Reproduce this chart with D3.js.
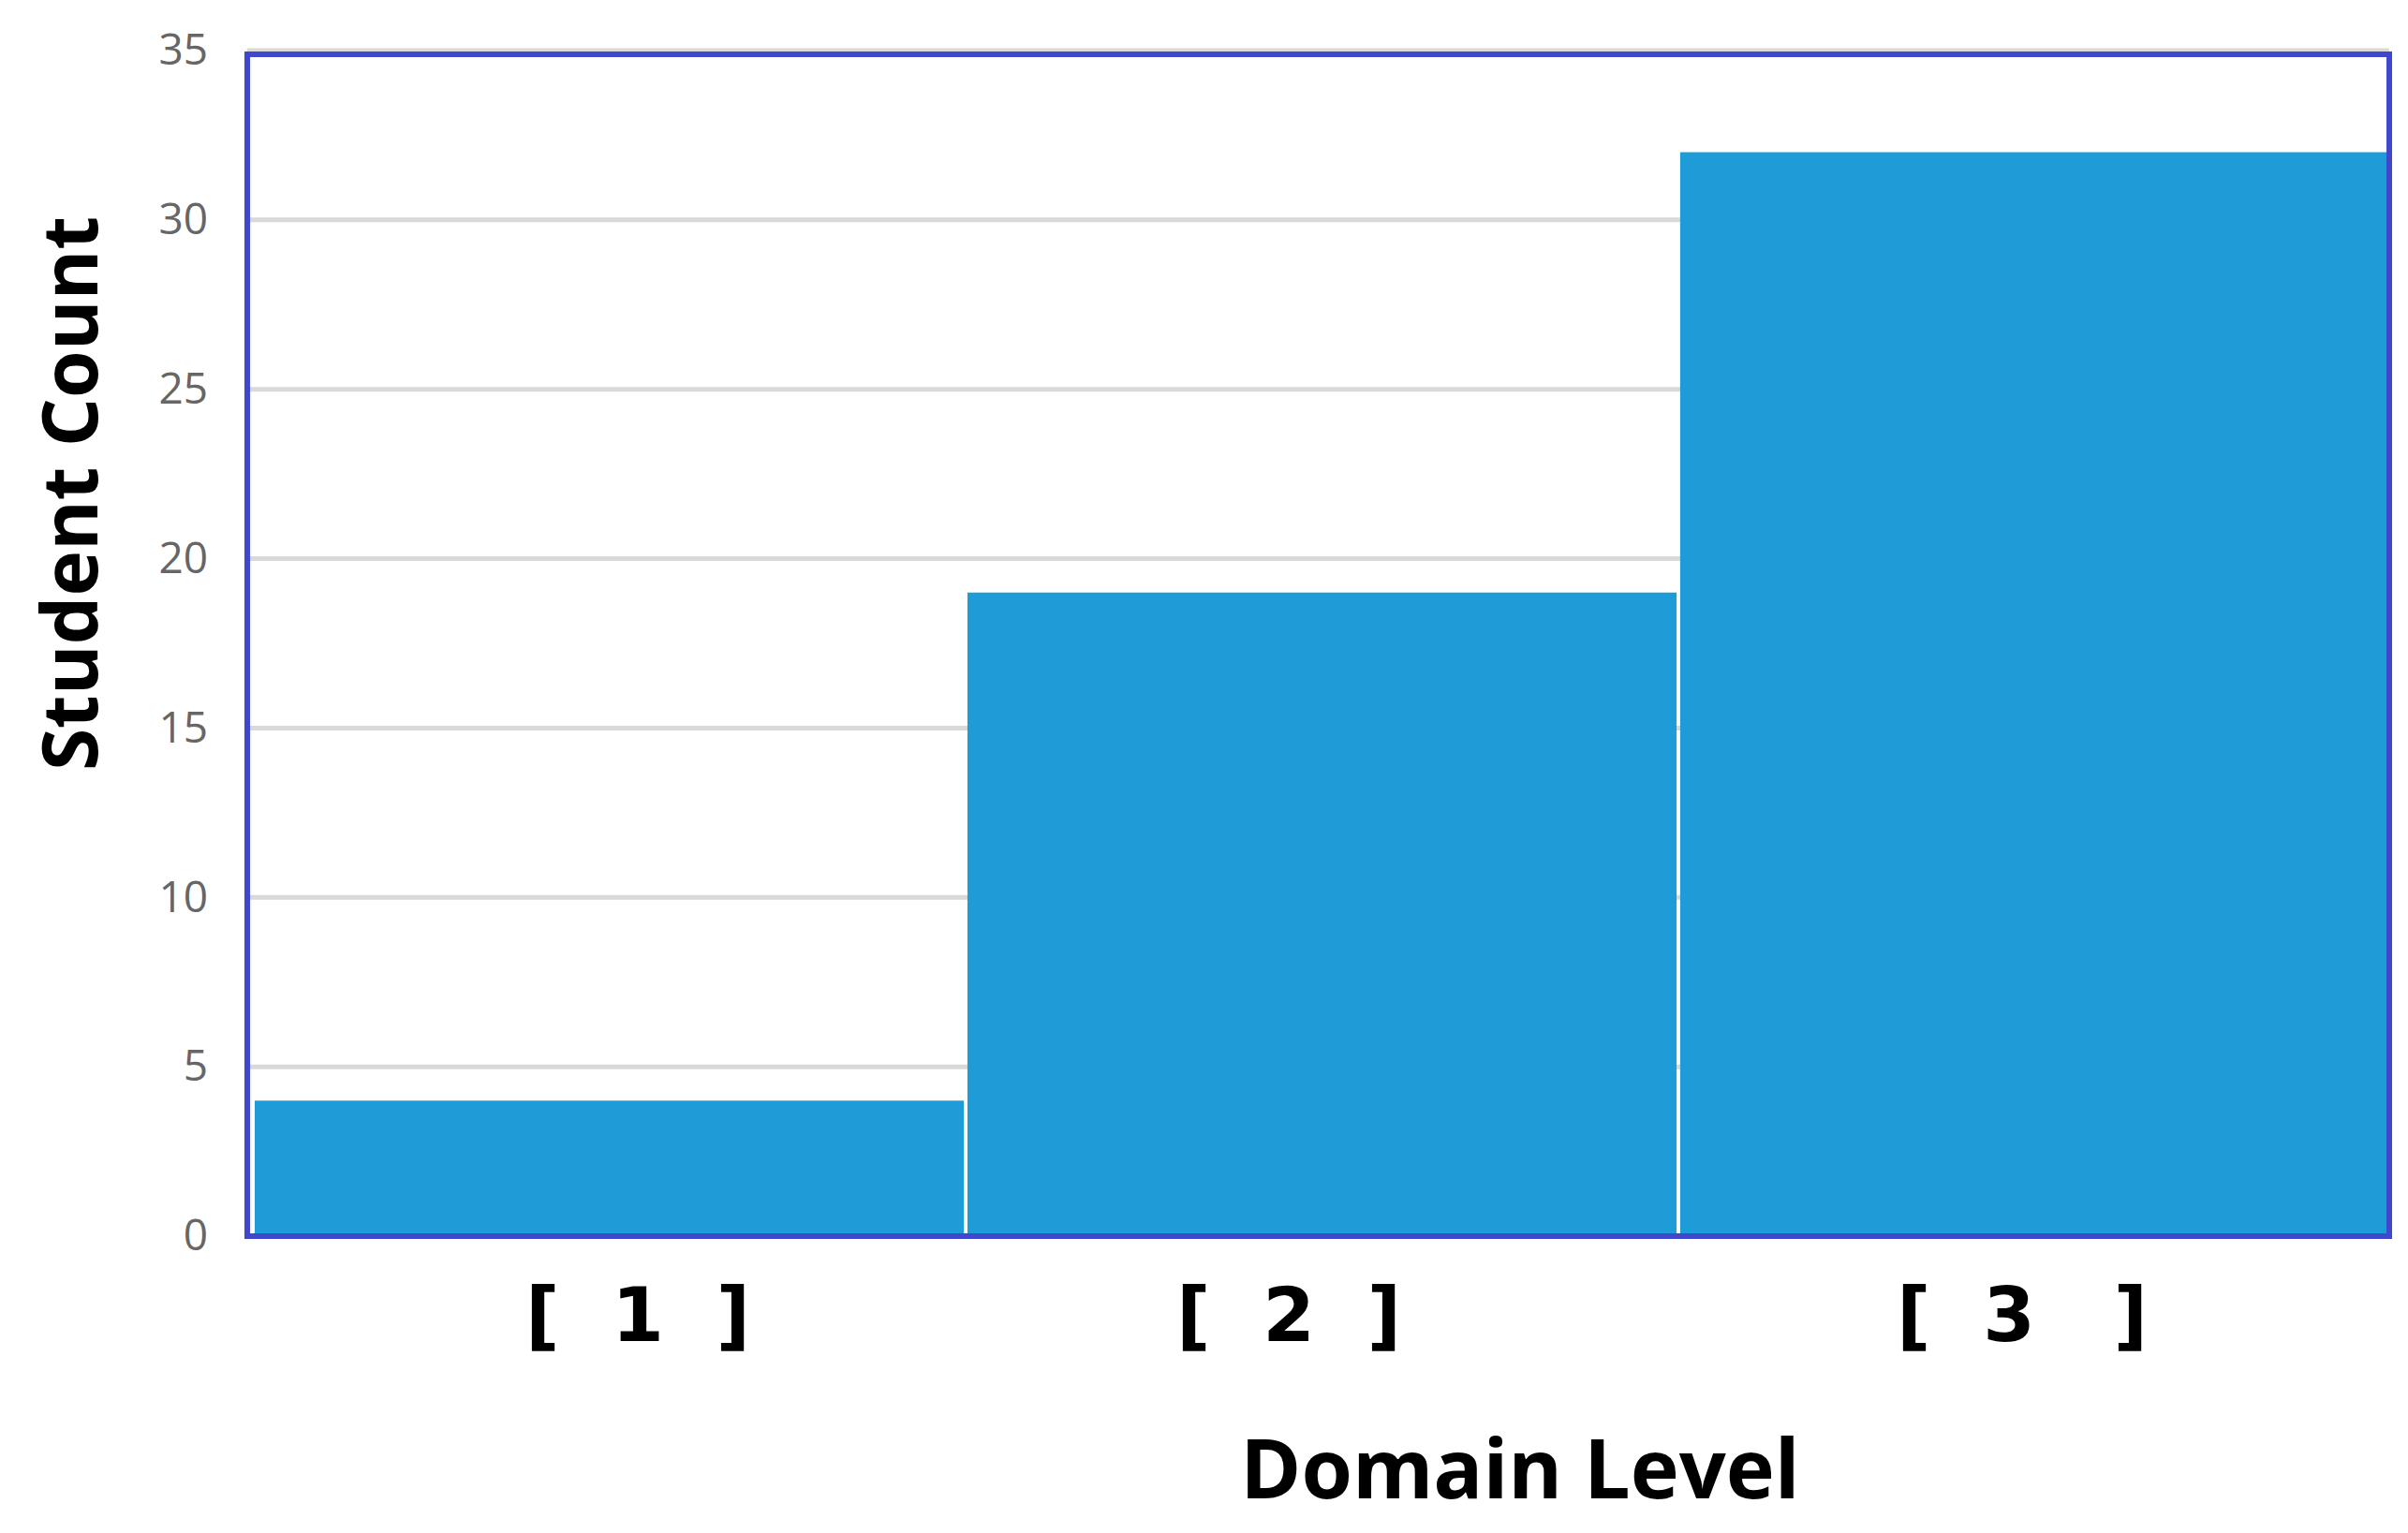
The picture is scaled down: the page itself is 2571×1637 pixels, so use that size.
<!DOCTYPE html>
<html>
<head>
<meta charset="utf-8">
<script src="https://cdn.jsdelivr.net/npm/d3@7"></script>
<style>
  body { margin: 0; background: #fff; }
</style>
</head>
<body>
<div id="chart"></div>
<script>
// Chart data
const categories = ["[  1  ]", "[  2  ]", "[  3   ]"];
const counts = [4, 19, 32];
const yTicks = [0, 5, 10, 15, 20, 25, 30, 35];

const width = 2571, height = 1637;
const margin = { top: 58, right: 20, bottom: 317, left: 264 };
const plotW = 2551 - margin.left;
const plotH = height - margin.top - margin.bottom;

let svg = d3.select("#chart").append("svg")
    .attr("width", width)
    .attr("height", height);

let g = svg.append("g")
    .attr("transform", `translate(${margin.left}, ${margin.top})`);

let yScale = d3.scaleLinear()
    .domain([0, 35])
    .range([plotH, -4]);

let xScale = d3.scaleBand()
    .domain(categories)
    .range([8, plotW])
    .paddingInner(0.005);

// gridlines
g.append("g").selectAll("line")
    .data(yTicks.slice(1))
    .enter()
    .append("line")
    .attr("x1", 0)
    .attr("x2", plotW)
    .attr("y1", d => yScale(d))
    .attr("y2", d => yScale(d))
    .attr("stroke", "#d9d9d9")
    .attr("stroke-width", 5);

// y axis labels
let yAxis = d3.axisLeft(yScale).tickValues(yTicks).tickSize(0).tickPadding(42);
g.append("g")
    .call(yAxis)
    .call(a => a.select(".domain").remove())
    .selectAll("text")
    .attr("font-family", "Open Sans, sans-serif")
    .attr("font-size", "46px")
    .attr("fill", "#666");

// bars
g.append("g").selectAll("rect")
    .data(counts)
    .enter()
    .append("rect")
    .attr("x", (d, i) => xScale(categories[i]))
    .attr("y", d => yScale(d))
    .attr("width", xScale.bandwidth())
    .attr("height", d => plotH - yScale(d))
    .attr("fill", "#1e9cd8");

// frame
g.append("rect")
    .attr("x", 0)
    .attr("y", 0)
    .attr("width", plotW)
    .attr("height", plotH)
    .attr("fill", "none")
    .attr("stroke", "#3f48cc")
    .attr("stroke-width", 6);

// x labels
let labelX = [681, 1376, 2159];
let xAxis = d3.axisBottom(xScale).tickSize(0).tickPadding(55);
let xa = g.append("g")
    .attr("transform", `translate(0, ${plotH})`)
    .call(xAxis);
xa.select(".domain").remove();
xa.selectAll(".tick")
    .attr("transform", (d, i) => `translate(${labelX[i] - margin.left}, 0)`);
xa.selectAll("text")
    .attr("font-family", "DejaVu Sans, sans-serif")
    .attr("font-weight", "bold")
    .attr("font-size", "80px")
    .attr("fill", "#000")
    .style("white-space", "pre");

// axis titles
svg.append("text")
    .attr("x", 1623)
    .attr("y", 1600)
    .attr("text-anchor", "middle")
    .attr("font-family", "Open Sans, sans-serif")
    .attr("font-weight", "bold")
    .attr("font-size", "88px")
    .attr("fill", "#000")
    .text("Domain Level");

svg.append("text")
    .attr("transform", `translate(104, 527) rotate(-90)`)
    .attr("text-anchor", "middle")
    .attr("font-family", "Open Sans, sans-serif")
    .attr("font-weight", "bold")
    .attr("font-size", "82px")
    .attr("fill", "#000")
    .text("Student Count");
</script>
</body>
</html>
